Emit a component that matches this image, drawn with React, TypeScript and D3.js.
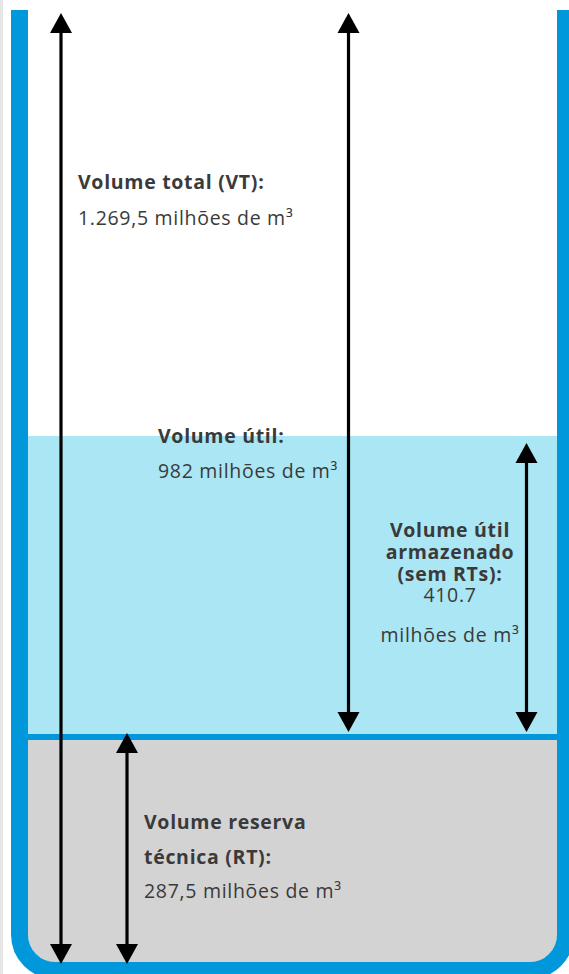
import React from "react";
import * as d3 from "d3";

// volumes in millions of m³
const levelNames = ["fundo", "RT", "armazenado", "VT"];
const levelValues = [0, 287.5, 698.2, 1269.5];

const arrowFrom = ["fundo", "RT", "RT", "fundo"];
const arrowTo = ["VT", "VT", "armazenado", "RT"];

const labelBold = [
  ["Volume total (VT):"],
  ["Volume útil:"],
  ["Volume útil", "armazenado", "(sem RTs):"],
  ["Volume reserva", "técnica (RT):"],
];
const labelValue = [
  ["1.269,5 milhões de m³"],
  ["982 milhões de m³"],
  ["410.7", "", "milhões de m³"],
  ["287,5 milhões de m³"],
];

const W = 569;
const H = 974;
const BLUE = "#0098da";
const WATER = "#aae6f4";
const GREY = "#d3d3d3";
const TEXT = "#3a3a3a";
const FONT = "'Open Sans', 'Noto Sans', sans-serif";

export default function App() {
  const level = new Map(levelNames.map((n, i) => [n, levelValues[i]]));
  // schematic vertical scale (the original is only roughly proportional)
  const y = d3.scaleLinear().domain(levelValues).range([962, 737, 436, 10]);

  const inL = 28;
  const inR = 557;
  const wall = 17;
  const rr = 36;
  const cl = inL - wall / 2;
  const cr = inR + wall / 2;
  const cb = y(0) + wall / 2;
  const top = y(level.get("VT")!);
  const wallPath = `M${cl},${top} V${cb - rr} A${rr},${rr} 0 0 0 ${cl + rr},${cb} H${cr - rr} A${rr},${rr} 0 0 0 ${cr},${cb - rr} V${top}`;
  const innerR = rr - wall / 2;
  const inner = d3.path();
  inner.moveTo(inL, top);
  inner.lineTo(inL, y(0) - innerR);
  inner.arcTo(inL, y(0), inL + innerR, y(0), innerR);
  inner.lineTo(inR - innerR, y(0));
  inner.arcTo(inR, y(0), inR, y(0) - innerR, innerR);
  inner.lineTo(inR, top);
  inner.closePath();

  const yRT = y(level.get("RT")!);
  const yStore = y(level.get("armazenado")!);

  const arrowX = [61, 348.5, 526.5, 127];
  const tipInset = (name: string, up: boolean) => {
    if (name === "VT") return 3;
    if (name === "fundo") return -2;
    if (name === "armazenado") return 7;
    return up ? -4 : 5; // RT line
  };
  const headW = 22;
  const headL = 20;

  const arrows = arrowFrom.map((f, i) => {
    const x = arrowX[i];
    const y1 = y(level.get(f)!) - tipInset(f, false); // bottom tip
    const y0 = y(level.get(arrowTo[i])!) + tipInset(arrowTo[i], true); // top tip
    return { x, y0, y1 };
  });

  // baselines of each line (bold lines first, then value lines)
  const labelPos = [
    { x: 78, anchor: "start", ys: [189, 225] },
    { x: 158, anchor: "start", ys: [443, 478] },
    { x: 450, anchor: "middle", ys: [537, 559, 581, 602, 0, 642] },
    { x: 144, anchor: "start", ys: [829, 864, 898] },
  ];

  return (
    <svg
      width={W}
      height={H}
      style={{ position: "absolute", left: 0, top: 0, background: "#fff" }}
    >
      <rect x={0} y={0} width={3} height={H} fill="#e6e6e6" />
      <defs>
        <clipPath id="inside">
          <path d={inner.toString()} />
        </clipPath>
      </defs>
      <g clipPath="url(#inside)">
        <rect x={inL} y={yStore} width={inR - inL} height={yRT - yStore} fill={WATER} />
        <rect x={inL} y={yRT} width={inR - inL} height={y(0) - yRT + 5} fill={GREY} />
        <line x1={inL} x2={inR} y1={yRT} y2={yRT} stroke={BLUE} strokeWidth={6} />
      </g>
      <path d={wallPath} fill="none" stroke={BLUE} strokeWidth={wall} />

      {arrows.map((a, i) => (
        <g key={i} fill="#000">
          <line x1={a.x} x2={a.x} y1={a.y0 + headL - 1} y2={a.y1 - headL + 1} stroke="#000" strokeWidth={3.2} />
          <path d={`M${a.x},${a.y0} L${a.x - headW / 2},${a.y0 + headL} L${a.x + headW / 2},${a.y0 + headL} Z`} />
          <path d={`M${a.x},${a.y1} L${a.x - headW / 2},${a.y1 - headL} L${a.x + headW / 2},${a.y1 - headL} Z`} />
        </g>
      ))}

      {labelBold.map((lines, i) => {
        const p = labelPos[i];
        const n = lines.length;
        return (
          <g
            key={i}
            fontFamily={FONT}
            fontSize={19.5}
            letterSpacing={0.7}
            fill={TEXT}
            textAnchor={p.anchor}
          >
            {lines.map((t, j) => (
              <text key={j} x={p.x} y={p.ys[j]} fontWeight={700}>
                {t}
              </text>
            ))}
            {labelValue[i].map((t, j) =>
              t ? (
                <text key={"v" + j} x={p.x} y={p.ys[n + j]}>
                  {t}
                </text>
              ) : null
            )}
          </g>
        );
      })}
    </svg>
  );
}
